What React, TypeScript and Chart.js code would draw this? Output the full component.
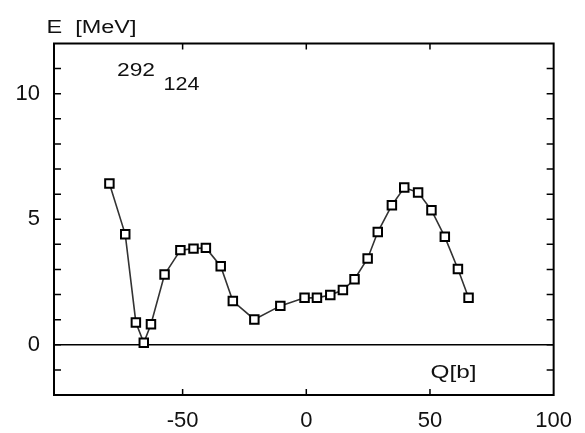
import React, { useEffect, useRef } from 'react';
import { Chart, registerables } from 'chart.js';

Chart.register(...registerables);

// Deformation Q [b]
const qValues = [-79.6, -73.2, -68.9, -65.7, -62.8, -57.3, -50.9, -45.6, -40.6, -34.6, -29.7, -21.0, -10.5, -0.7, 4.3, 9.7, 14.8, 19.5, 24.8, 28.9, 34.6, 39.6, 45.2, 50.6, 56.0, 61.3, 65.6];
// Energy E [MeV]
const energies = [6.42, 4.40, 0.89, 0.08, 0.82, 2.80, 3.77, 3.83, 3.86, 3.13, 1.74, 1.01, 1.55, 1.87, 1.87, 1.98, 2.18, 2.61, 3.44, 4.49, 5.56, 6.26, 6.07, 5.36, 4.30, 3.02, 1.87];

const xTickValues = [-50, 0, 50, 100];
const yTickValues = [-2, -1, 0, 1, 2, 3, 4, 5, 6, 7, 8, 9, 10, 11, 12];
const yTickLabels = [0, 5, 10];

const yAxisTitle = 'E  [MeV]';
const xAxisTitle = 'Q[b]';
const massNumber = '292';
const atomicNumber = '124';

const TICK_FONT = { family: '"Liberation Sans", Arial, sans-serif', size: 22 };

function drawStretched(ctx: CanvasRenderingContext2D, text: string, left: number, baseline: number, width: number, size: number) {
  ctx.save();
  ctx.font = `${size}px "Liberation Sans", Arial, sans-serif`;
  ctx.fillStyle = '#111';
  ctx.textAlign = 'left';
  ctx.textBaseline = 'alphabetic';
  const w = ctx.measureText(text).width;
  const sx = width / w;
  ctx.translate(left, baseline);
  ctx.scale(sx, 1);
  ctx.fillText(text, 0, 0);
  ctx.restore();
}

const framePlugin = {
  id: 'gnuplotFrame',
  beforeDatasetsDraw(chart: any) {
    const { ctx, chartArea, scales } = chart;
    const { left, right, top, bottom } = chartArea;
    const x = scales.x;
    const y = scales.y;
    ctx.save();
    ctx.strokeStyle = '#000';
    const y0 = y.getPixelForValue(0);
    ctx.lineWidth = 1.6;
    ctx.beginPath();
    ctx.moveTo(left, y0);
    ctx.lineTo(right, y0);
    ctx.stroke();
    ctx.lineWidth = 1.5;
    ctx.beginPath();
    for (const v of yTickValues) {
      if (v <= y.min || v >= y.max) continue;
      const py = y.getPixelForValue(v);
      ctx.moveTo(left, py);
      ctx.lineTo(left + 7, py);
      ctx.moveTo(right, py);
      ctx.lineTo(right - 7, py);
    }
    for (const v of xTickValues) {
      if (v <= x.min || v >= x.max) continue;
      const px = x.getPixelForValue(v);
      ctx.moveTo(px, bottom);
      ctx.lineTo(px, bottom - 6);
      ctx.moveTo(px, top);
      ctx.lineTo(px, top + 6);
    }
    ctx.stroke();
    ctx.lineWidth = 2;
    ctx.strokeRect(left, top, right - left, bottom - top);
    ctx.restore();
  },
  afterDraw(chart: any) {
    const { ctx } = chart;
    drawStretched(ctx, yAxisTitle, 46.5, 33, 90, 18);
    drawStretched(ctx, massNumber, 117, 75.5, 38, 18.5);
    drawStretched(ctx, atomicNumber, 163.5, 89.5, 36, 18.5);
    drawStretched(ctx, xAxisTitle, 430.5, 378, 46, 18);
  },
};

export default function App() {
  const canvasRef = useRef<HTMLCanvasElement | null>(null);

  useEffect(() => {
    const canvas = canvasRef.current;
    if (!canvas) return;
    const chart = new Chart(canvas, {
      type: 'scatter',
      data: {
        datasets: [
          {
            data: qValues.map((q, i) => ({ x: q, y: energies[i] })),
            showLine: true,
            borderColor: '#333',
            borderWidth: 1.6,
            pointStyle: 'rect',
            pointRadius: 6,
            pointBorderWidth: 2,
            pointBorderColor: '#000',
            pointBackgroundColor: '#fff',
          },
        ],
      },
      plugins: [framePlugin],
      options: {
        animation: false,
        responsive: false,
        devicePixelRatio: 1,
        layout: { padding: { left: 0, right: 27.5, top: 43.5, bottom: 0 } },
        plugins: { legend: { display: false }, tooltip: { enabled: false } },
        scales: {
          x: {
            type: 'linear',
            min: -102,
            max: 100,
            afterBuildTicks: (s: any) => {
              s.ticks = xTickValues.map((v) => ({ value: v }));
            },
            afterFit: (s: any) => {
              s.height = 38;
            },
            grid: { display: false, drawTicks: false },
            border: { display: false },
            ticks: {
              font: TICK_FONT,
              color: '#111',
              padding: 13,
              maxRotation: 0,
              autoSkip: false,
            },
          },
          y: {
            type: 'linear',
            min: -2,
            max: 12,
            afterBuildTicks: (s: any) => {
              s.ticks = yTickValues.map((v) => ({ value: v }));
            },
            afterFit: (s: any) => {
              s.width = 54;
            },
            grid: { display: false, drawTicks: false },
            border: { display: false },
            ticks: {
              font: TICK_FONT,
              color: '#111',
              padding: 14,
              autoSkip: false,
              callback: (v: any) => (yTickLabels.includes(Number(v)) ? String(v) : ''),
            },
          },
        },
      },
    });
    return () => chart.destroy();
  }, []);

  return (
    <div style={{ position: 'fixed', left: 0, top: 0, width: 585, height: 433, background: '#fff' }}>
      <canvas ref={canvasRef} width={585} height={433} />
    </div>
  );
}
